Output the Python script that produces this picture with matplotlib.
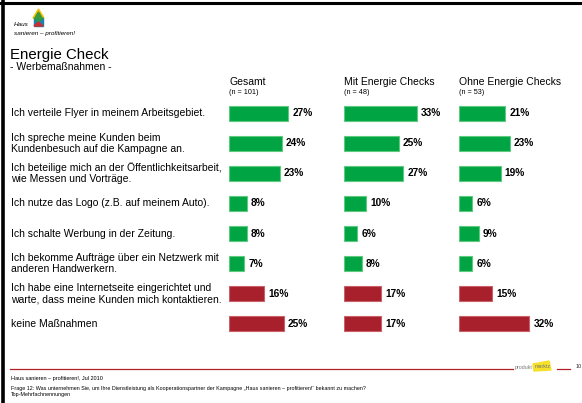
import matplotlib.pyplot as plt
from matplotlib.patches import Polygon, Rectangle
from matplotlib.transforms import blended_transform_factory

plt.rcParams['font.family'] = ['Liberation Sans', 'DejaVu Sans']

# Daten
labels = [
    "Ich verteile Flyer in meinem Arbeitsgebiet.",
    "Ich spreche meine Kunden beim\nKundenbesuch auf die Kampagne an.",
    "Ich beteilige mich an der Öffentlichkeitsarbeit,\nwie Messen und Vorträge.",
    "Ich nutze das Logo (z.B. auf meinem Auto).",
    "Ich schalte Werbung in der Zeitung.",
    "Ich bekomme Aufträge über ein Netzwerk mit\nanderen Handwerkern.",
    "Ich habe eine Internetseite eingerichtet und\nwarte, dass meine Kunden mich kontaktieren.",
    "keine Maßnahmen",
]
gruppen = ["Gesamt", "Mit Energie Checks", "Ohne Energie Checks"]
n_werte = ["(n = 101)", "(n = 48)", "(n = 53)"]
gesamt = [27, 24, 23, 8, 8, 7, 16, 25]
mit_check = [33, 25, 27, 10, 6, 8, 17, 17]
ohne_check = [21, 23, 19, 6, 9, 6, 15, 32]
farbtyp = ["g", "g", "g", "g", "g", "g", "r", "r"]

W, H = 582, 403
GRUEN, GRUEN_RAND = "#00a443", "#5fc97f"
ROT, ROT_RAND = "#a8202b", "#c9606a"
LINIE = "#b3212c"

fig = plt.figure(figsize=(W / 100, H / 100), dpi=100)

def fx(px):
    return px / W

def fy(py):
    return 1 - py / H

# Rahmen oben und links
fig.add_artist(plt.Line2D([0, 1], [fy(3), fy(3)], color="black", lw=2.2))
fig.add_artist(plt.Line2D([fx(2.5), fx(2.5)], [0, 1], color="black", lw=2.6))

# Logo (vereinfacht)
fig.add_artist(Polygon([(fx(38.5), fy(9)), (fx(33), fy(18)), (fx(44), fy(18))],
                       closed=True, color="#f2c200", transform=fig.transFigure))
fig.add_artist(Polygon([(fx(38.5), fy(12)), (fx(35.5), fy(17)), (fx(41.5), fy(17))],
                       closed=True, color="#3a9a3a", transform=fig.transFigure))
fig.add_artist(Rectangle((fx(34), fy(26)), fx(9), fy(18) - fy(26),
                         color="#1e7fb0", transform=fig.transFigure))
fig.add_artist(Polygon([(fx(34), fy(18)), (fx(43), fy(18)), (fx(38.5), fy(22))],
                       closed=True, color="#2e9a48", transform=fig.transFigure))
fig.add_artist(Polygon([(fx(34), fy(26)), (fx(43), fy(26)), (fx(38.5), fy(22))],
                       closed=True, color="#c83030", transform=fig.transFigure))
fig.text(fx(14), fy(24.5), "Haus", fontsize=4.6, style="italic", va="center")
fig.text(fx(14), fy(33), "sanieren – profitieren!", fontsize=4.6, style="italic", va="center")

# Titel
fig.text(fx(10), fy(55), "Energie Check", fontsize=10.8, va="center")
fig.text(fx(10), fy(67), "- Werbemaßnahmen -", fontsize=7.5, va="center")

# Balken
starts = [229, 344, 459]
serien = [gesamt, mit_check, ohne_check]
px_pro_prozent = 2.2
ax_w = 110
top, bottom = 98, 339
rows = list(range(len(labels)))

axes = []
for start, name, n, werte in zip(starts, gruppen, n_werte, serien):
    ax = fig.add_axes([fx(start), fy(bottom), fx(ax_w), fy(top) - fy(bottom)])
    farben = [GRUEN if f == "g" else ROT for f in farbtyp]
    raender = [GRUEN_RAND if f == "g" else ROT_RAND for f in farbtyp]
    ax.barh(rows, werte, height=0.5, color=farben, edgecolor=raender, linewidth=0.8)
    ax.set_xlim(0, ax_w / px_pro_prozent)
    ax.set_ylim(len(labels) - 0.5, -0.5)
    ax.axis("off")
    for r, v in zip(rows, werte):
        ax.text(v + 1.8, r, f"{v}%", fontsize=7.3, fontweight="bold", va="center", ha="left")
    fig.text(fx(start), fy(82), name, fontsize=7.5, va="center")
    fig.text(fx(start), fy(93), n, fontsize=5.2, va="center")
    axes.append(ax)

# Aussagen links
tr = blended_transform_factory(fig.transFigure, axes[0].transData)
for r, lab in zip(rows, labels):
    axes[0].text(fx(11), r, lab, transform=tr, fontsize=7.5, va="center", ha="left",
                 linespacing=1.15)

# Fusszeile
fig.add_artist(plt.Line2D([fx(10), fx(513)], [fy(369), fy(369)], color=LINIE, lw=0.9))
fig.add_artist(plt.Line2D([fx(557), fx(570)], [fy(369), fy(369)], color=LINIE, lw=0.9))
fig.add_artist(Polygon([(fx(533), fy(364)), (fx(549), fy(361)), (fx(551), fy(370)), (fx(534), fy(371))],
                       closed=True, color="#f5e12a", transform=fig.transFigure))
fig.text(fx(515), fy(367), "produkt", fontsize=3.8, color="#777777", va="center")
fig.text(fx(535), fy(367), "marktz", fontsize=3.8, color="#777777", va="center")
fig.text(fx(576), fy(367), "10", fontsize=4, color="#333333", va="center")
fig.text(fx(11), fy(378.5), "Haus sanieren – profitieren!, Jul 2010", fontsize=4.0, va="center")
fig.text(fx(11), fy(388.5), "Frage 12: Was unternehmen Sie, um Ihre Dienstleistung als Kooperationspartner "
         "der Kampagne „Haus sanieren – profitieren!“ bekannt zu machen?", fontsize=3.9, va="center")
fig.text(fx(11), fy(394.5), "Top-Mehrfachnennungen", fontsize=3.9, va="center")

fig.savefig("out.png", dpi=100)
